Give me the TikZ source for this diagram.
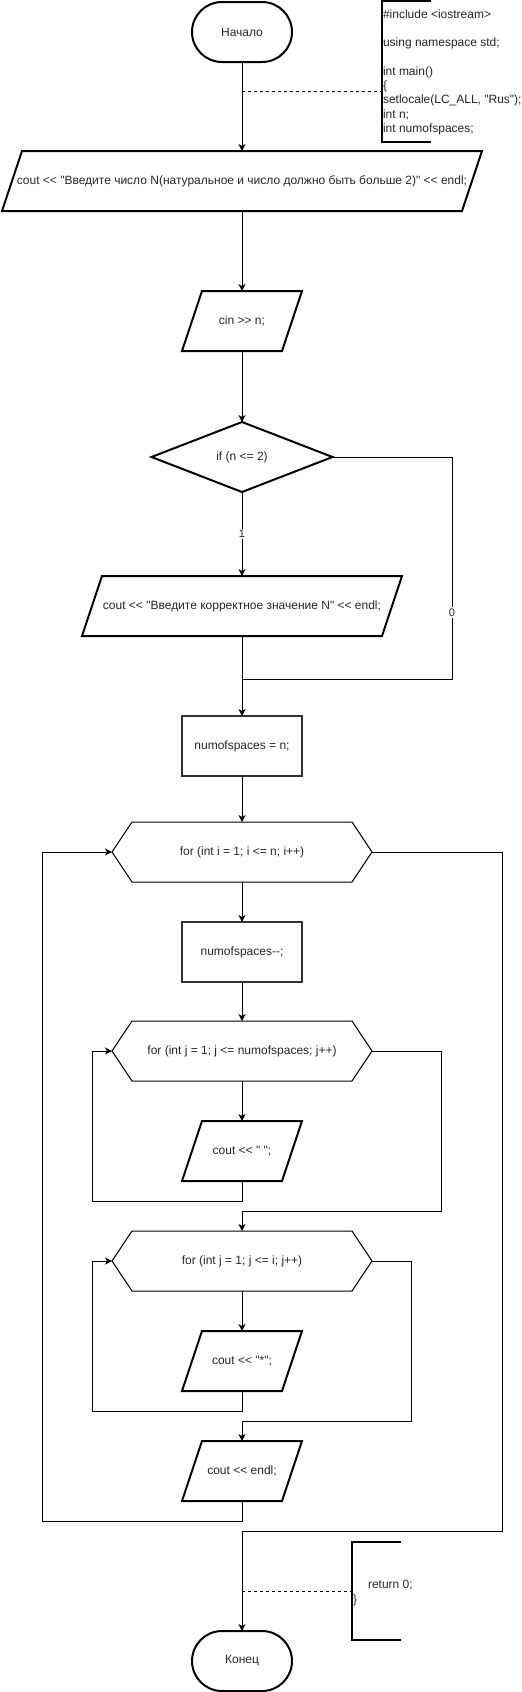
\documentclass[tikz,border=0pt]{standalone}
\usepackage{fontspec}
\newfontfamily\lsans{Liberation Sans}
\usetikzlibrary{arrows.meta}
\newcommand\iopath[1]{\draw[thick line] ([xshift=-10pt]#1.south west) -- ([xshift=10pt]#1.north west) -- ([xshift=10pt]#1.north east) -- ([xshift=-10pt]#1.south east) -- cycle;}
\newcommand\hexpath[1]{\draw[conn] (#1.west) -- ([xshift=20pt]#1.north west) -- ([xshift=-20pt]#1.north east) -- (#1.east) -- ([xshift=-20pt]#1.south east) -- ([xshift=20pt]#1.south west) -- cycle;}
\begin{document}
\begin{tikzpicture}[x=1pt,y=-1pt,
  base/.style={font=\lsans\fontsize{12}{14.3}\selectfont, text=black!85, inner sep=0pt, outer sep=0pt},
  term/.style={base, draw=black, line width=2pt, rounded corners=30pt, minimum width=100pt, minimum height=60pt},
  proc/.style={base, draw=black!80, line width=2pt, minimum width=120pt, minimum height=60pt},
  holder/.style={base, minimum height=60pt},
  thick line/.style={line width=2pt, line join=miter},
  conn/.style={line width=1pt},
  arr/.style={conn, -{Stealth[length=7pt,width=7pt,inset=2pt]}},
  lbl/.style={base, fill=white, font=\lsans\fontsize{11}{13}\selectfont, inner sep=1.5pt},
  dsh/.style={conn, dash pattern=on 3pt off 3pt}]
\useasboundingbox (0,0) rectangle (522,1692);

% shapes
\node[term] (start) at (242,32) {Начало};
\node[holder, minimum width=460pt] (p1) at (242,181) {cout << "Введите число N(натуральное и число должно быть больше 2)" << endl;};
\iopath{p1}
\node[holder, minimum width=100pt] (cin) at (242,321) {cin >> n;};
\iopath{cin}
\node[holder, minimum width=181pt, minimum height=70pt] (d) at (242,457) {if (n <= 2)};
\draw[thick line] (d.north) -- (d.east) -- (d.south) -- (d.west) -- cycle;
\node[holder, minimum width=300pt] (p2) at (242,606) {cout << "Введите корректное значение N" << endl;};
\iopath{p2}
\node[proc] (num) at (242,746) {numofspaces = n;};
\node[holder, minimum width=260pt] (fori) at (242,852) {for (int i = 1; i <= n; i++)};
\hexpath{fori}
\node[proc] (dec) at (242,952) {numofspaces-{}-;};
\node[holder, minimum width=260pt] (forj1) at (242,1051) {for (int j = 1; j <= numofspaces; j++)};
\hexpath{forj1}
\node[holder, minimum width=100pt] (sp) at (242,1151) {cout << " ";};
\iopath{sp}
\node[holder, minimum width=260pt] (forj2) at (242,1261) {for (int j = 1; j <= i; j++)};
\hexpath{forj2}
\node[holder, minimum width=100pt] (star) at (242,1361) {cout << "*";};
\iopath{star}
\node[holder, minimum width=100pt] (endl) at (242,1471) {cout << endl;};
\iopath{endl}
\node[term] (end) at (242,1661) {Конец};

% annotations
\draw[thick line] (431,1) -- (382,1) -- (382,142) -- (431,142);
\node[base, align=left, anchor=north west] (n1t) at (383,9.4) {\#include <iostream>\\[14.3pt]using namespace std;\\[14.3pt]int main()\\\{\\setlocale(LC\_ALL, "Rus");\\int n;\\int numofspaces;};
\coordinate (j1) at (242,91);
\coordinate (n1) at (382,91);
\draw[dsh] (j1) -- (n1);

\draw[thick line] (401,1542) -- (352,1542) -- (352,1640) -- (401,1640);
\node[base, align=left, anchor=north west] (n2t) at (353,1580.4) {\hspace*{15pt}return 0;\\\}};
\coordinate (j2) at (242,1591);
\coordinate (n2) at (352,1591);
\draw[dsh] (j2) -- (n2);

% connectors
\draw[arr] (start.south) -- (p1.north);
\draw[arr] (p1.south) -- (cin.north);
\draw[arr] (cin.south) -- (d.north);
\draw[arr] (d.south) -- node[lbl] {1} (p2.north);
\coordinate (r0) at (452,679);
\coordinate (m0) at (242,679);
\draw[conn] (d.east) -| node[lbl, pos=0.85] {0} (r0) -- (m0);
\draw[arr] (p2.south) -- (num.north);
\draw[arr] (num.south) -- (fori.north);
\draw[arr] (fori.south) -- (dec.north);
\draw[arr] (dec.south) -- (forj1.north);
\draw[arr] (forj1.south) -- (sp.north);
\coordinate (l1) at (92,1201);
\draw[arr] (sp.south) |- (l1) |- (forj1.west);
\coordinate (r1) at (441,1211);
\draw[arr] (forj1.east) -| (r1) -| (forj2.north);
\draw[arr] (forj2.south) -- (star.north);
\coordinate (l2) at (92,1411);
\draw[arr] (star.south) |- (l2) |- (forj2.west);
\coordinate (r2) at (411,1421);
\draw[arr] (forj2.east) -| (r2) -| (endl.north);
\coordinate (l3) at (42,1521);
\draw[arr] (endl.south) |- (l3) |- (fori.west);
\coordinate (r3) at (502,1531);
\draw[arr] (fori.east) -| (r3) -| (end.north);
\end{tikzpicture}
\end{document}
